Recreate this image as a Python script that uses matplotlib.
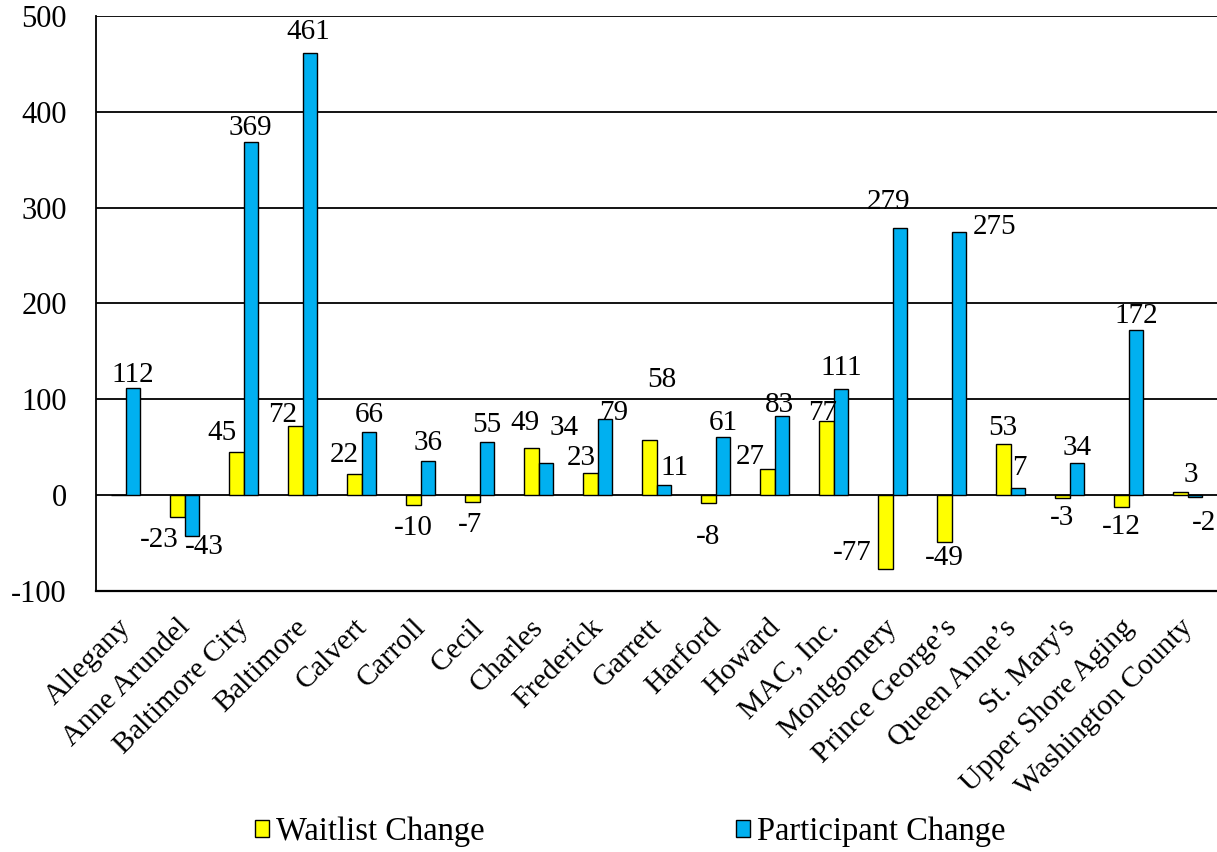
import numpy as np
import matplotlib
matplotlib.use("Agg")
import matplotlib.pyplot as plt
import matplotlib.transforms as mtransforms

plt.rcParams['font.family'] = ['Liberation Serif', 'DejaVu Serif']
plt.rcParams['axes.unicode_minus'] = False

# Datos
regions = ["Allegany", "Anne Arundel", "Baltimore City", "Baltimore", "Calvert",
           "Carroll", "Cecil", "Charles", "Frederick", "Garrett", "Harford",
           "Howard", "MAC, Inc.", "Montgomery", "Prince George\u2019s",
           "Queen Anne\u2019s", "St. Mary's", "Upper Shore Aging", "Washington County"]
waitlist = [0, -23, 45, 72, 22, -10, -7, 49, 23, 58, -8, 27, 77, -77, -49, 53, -3, -12, 3]
participant = [112, -43, 369, 461, 66, 36, 55, 34, 79, 11, 61, 83, 111, 279, 275, 7, 34, 172, -2]

# Desplazamiento de etiquetas (pixeles: dx, dy desde el extremo de la barra)
wait_off = [(0, 0), (-18, -23), (-14, 19), (-12, 11), (-10, 19), (0, -23), (-2, -23),
            (-6, 25), (-9, 15), (13, 60), (0, -34), (-17, 12), (-4, 8), (-33, 16),
            (0, -16), (0, 16), (0, -20), (0, -20), (11, 17)]
part_off = [(0, 13), (12, -11), (0, 14), (-2, 21), (0, 17), (0, 18), (0, 17),
            (18, 35), (9, 6), (11, 17), (0, 14), (-2, 11), (0, 21), (-11, 26),
            (36, 5), (2, 20), (0, 15), (0, 14), (9, -26)]

YELLOW = "#FFFF00"
BLUE = "#00B0F0"

fig = plt.figure(figsize=(12.17, 8.52), dpi=100)
ax = fig.add_axes([96 / 1217, 1 - 591 / 852, 1 - 96 / 1217, (591 - 16) / 852])

x = np.arange(len(regions))
w = 0.25
ax.bar(x - w / 2, waitlist, w, color=YELLOW, edgecolor="black", linewidth=1,
       label="Waitlist Change", zorder=3)
ax.bar(x + w / 2, participant, w, color=BLUE, edgecolor="black", linewidth=1,
       label="Participant Change", zorder=3)

# Etiquetas de datos
for xs, vals, offs in [(x - w / 2, waitlist, wait_off), (x + w / 2, participant, part_off)]:
    for xi, v, (dx, dy) in zip(xs, vals, offs):
        if v == 0:
            continue
        ax.annotate(f"{v}", (xi, v), xytext=(dx, dy), textcoords="offset pixels",
                    ha="center", va="center", fontsize=21, zorder=4,
                    annotation_clip=False)

ax.set_xlim(-0.5, len(regions) - 0.5)
ax.set_ylim(-100, 500)
ax.set_yticks(range(-100, 501, 100))
ax.yaxis.grid(True, color="black", linewidth=1.3, zorder=0)
ax.set_axisbelow(True)
for s in ["top", "right"]:
    ax.spines[s].set_visible(False)
ax.spines["left"].set_linewidth(1.3)
ax.spines["bottom"].set_linewidth(1.6)
ax.tick_params(axis="y", length=0, pad=21, labelsize=22)
ax.tick_params(axis="x", length=0, pad=8)
ax.set_xticks(x)
ax.set_xticklabels(regions, rotation=45, ha="right", rotation_mode="anchor",
                   fontsize=21.5)
shift = mtransforms.ScaledTranslation(-8 / 100, -12 / 100, fig.dpi_scale_trans)
for lbl in ax.get_xticklabels():
    lbl.set_transform(lbl.get_transform() + shift)

fig.legend(loc="center", bbox_to_anchor=(0.518, 0.024), ncol=2, frameon=False,
           fontsize=23.5, handlelength=0.42, handleheight=0.42, handletextpad=0.22,
           columnspacing=7.7)

fig.savefig("out.png", dpi=100)
